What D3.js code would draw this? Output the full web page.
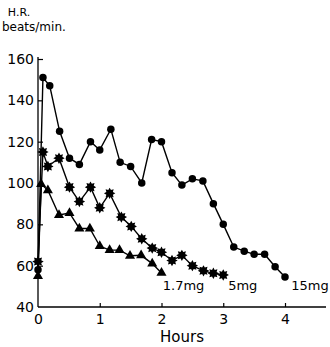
<!DOCTYPE html>
<html>
<head>
<meta charset="utf-8">
<script src="https://cdn.jsdelivr.net/npm/d3@7"></script>
<style>
  body { margin: 0; background: #fff; }
  svg { display: block; }
  text { font-family: "DejaVu Sans", sans-serif; fill: #000; }
</style>
</head>
<body>
<div id="chart"></div>
<script>
// heart rate after dose, three doses
const hours15 = [0, 0.08, 0.19, 0.35, 0.51, 0.67, 0.85, 1.0, 1.18, 1.33, 1.5, 1.68, 1.84, 2.0, 2.17, 2.33, 2.5, 2.67, 2.84, 3.0, 3.17, 3.34, 3.5, 3.67, 3.84, 4.0]
const hr15 = [58, 151, 147, 125, 112, 109, 120, 116, 126, 110, 108, 100, 121, 120, 105, 99, 102, 101, 90, 80, 69, 67, 65.5, 65.5, 59.5, 54.5]

const hours5 = [0, 0.08, 0.16, 0.34, 0.51, 0.67, 0.85, 1.0, 1.16, 1.35, 1.51, 1.68, 1.85, 2.0, 2.17, 2.33, 2.5, 2.68, 2.84, 3.0]
const hr5 = [62, 115, 108, 112, 98, 91, 98, 88, 95, 83.5, 79, 73, 68.5, 66.5, 62.5, 65, 60, 57.5, 56.3, 55.5]

const hours17 = [0, 0.05, 0.16, 0.34, 0.51, 0.67, 0.84, 1.0, 1.16, 1.32, 1.49, 1.67, 1.85, 2.0]
const hr17 = [55, 99.5, 96.5, 84.5, 85.5, 78, 78, 69.5, 67.5, 67.5, 64.8, 65, 61, 56.5]

const xTicks = [0, 1, 2, 3, 4]
const yTicks = [40, 60, 80, 100, 120, 140, 160]

const doseLabels = ["1.7mg", "5mg", "15mg"]

// 8 point burst for the 5mg series
const burst = {
    draw(ctx, size) {
        const ro = Math.sqrt(size) * 0.6
        const ri = ro * 0.62
        for (let i = 0; i < 16; i++) {
            const a = i * Math.PI / 8 - Math.PI / 2
            const r = i % 2 === 0 ? ro : ri
            if (i === 0) ctx.moveTo(r * Math.cos(a), r * Math.sin(a))
            else ctx.lineTo(r * Math.cos(a), r * Math.sin(a))
        }
        ctx.closePath()
    }
}

const W = 330, H = 347

const svg = d3.select("#chart").append("svg")
    .attr("width", W)
    .attr("height", H)

const x = d3.scaleLinear().domain([0, 4]).range([38, 285])
const y = d3.scaleLinear().domain([40, 160]).range([307, 59])

// axes
const xAxis = svg.append("g")
    .attr("transform", "translate(0," + y(40) + ")")
    .call(d3.axisBottom(x).tickValues(xTicks).tickSize(-4).tickPadding(7).tickFormat(d3.format("d")))
xAxis.select(".domain").remove()
xAxis.append("line")
    .attr("x1", x(0)).attr("x2", 326)
    .attr("stroke", "#000").attr("stroke-width", 1.3)
xAxis.selectAll(".tick line").attr("stroke-width", 1.2)
xAxis.selectAll(".tick").filter(d => d === 0).select("line").remove()
xAxis.selectAll("text").style("font-size", "14px").attr("fill", "#000")

const yAxis = svg.append("g")
    .attr("transform", "translate(" + x(0) + ",0)")
    .call(d3.axisLeft(y).tickValues(yTicks).tickSize(-5).tickPadding(4))
yAxis.select(".domain").remove()
yAxis.append("line")
    .attr("y1", y(40)).attr("y2", y(160) - 2)
    .attr("stroke", "#000").attr("stroke-width", 1.3)
yAxis.selectAll(".tick line").attr("stroke-width", 1.2)
yAxis.selectAll(".tick").filter(d => d === 40).select("line").remove()
yAxis.selectAll("text").style("font-size", "14px").attr("fill", "#000")

// series
const series = [
    { hours: hours15, hr: hr15, type: "circle" },
    { hours: hours5, hr: hr5, type: "burst" },
    { hours: hours17, hr: hr17, type: "triangle" }
]

const line = d3.line()
    .x(d => x(d[0]))
    .y(d => y(d[1]))

series.forEach(s => {
    const pts = s.hours.map((h, i) => [h, s.hr[i]])
    svg.append("path")
        .datum(pts)
        .attr("d", line)
        .attr("fill", "none")
        .attr("stroke", "#000")
        .attr("stroke-width", 1.4)

    let sym
    if (s.type === "circle") sym = d3.symbol(d3.symbolCircle, 44)
    else if (s.type === "triangle") sym = d3.symbol(d3.symbolTriangle, 44)
    else sym = d3.symbol(burst, 90)

    svg.append("g").selectAll("path")
        .data(pts)
        .join("path")
        .attr("transform", d => "translate(" + x(d[0]) + "," + y(d[1]) + ")")
        .attr("d", sym)
        .attr("fill", "#000")
})

// dose labels
const labelX = [2.02, 3.08, 4.1]
doseLabels.forEach((t, i) => {
    svg.append("text")
        .attr("x", x(labelX[i]))
        .attr("y", 290)
        .style("font-size", "13px")
        .text(t)
})

// titles
svg.append("text")
    .attr("x", 19).attr("y", 16)
    .attr("text-anchor", "middle")
    .style("font-size", "11px")
    .text("H.R.")
svg.append("text")
    .attr("x", 2).attr("y", 31)
    .style("font-size", "12px")
    .text("beats/min.")
svg.append("text")
    .attr("x", 182).attr("y", 342)
    .attr("text-anchor", "middle")
    .style("font-size", "15px")
    .text("Hours")
</script>
</body>
</html>
